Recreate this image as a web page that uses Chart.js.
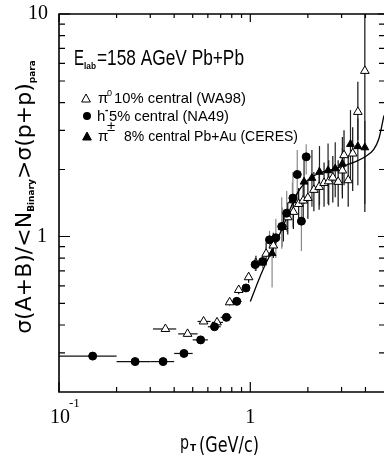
<!DOCTYPE html>
<html>
<head>
<meta charset="utf-8">
<script src="https://cdn.jsdelivr.net/npm/chart.js@4.4.1/dist/chart.umd.min.js"></script>
<style>
  html, body { margin: 0; padding: 0; background: #fff; overflow: hidden; }
  #wrap { width: 384px; height: 462px; overflow: hidden; position: relative; }
  canvas { position: absolute; left: 0; top: 0; }
</style>
</head>
<body>
<div id="wrap"><canvas id="c" width="390" height="462"></canvas></div>
<script>
// pi0 10% central (WA98) - open triangles
const waX   = [0.36, 0.47, 0.57, 0.67, 0.78, 0.87, 0.98, 1.07, 1.21, 1.32, 1.49, 1.57, 1.68, 1.79, 1.89, 2.00, 2.15, 2.29, 2.43, 2.57, 2.70, 2.88, 3.03, 3.09, 3.25, 3.43, 3.65, 3.97];
const waY   = [0.384, 0.365, 0.415, 0.411, 0.506, 0.575, 0.656, 0.758, 0.836, 0.911, 1.11, 1.22, 1.29, 1.40, 1.45, 1.49, 1.62, 1.67, 1.74, 1.77, 1.84, 1.76, 1.98, 2.32, 1.79, 2.36, 3.63, 5.55];
const waXlo = [0.31, 0.42, 0.53, 0.63, 0.75, 0.84, 0.95, 1.05, 0, 0, 0, 0, 0, 0, 0, 0, 0, 0, 0, 0, 0, 0, 0, 0, 0, 0, 0, 0];
const waXhi = [0.41, 0.53, 0.62, 0.72, 0.81, 0.90, 1.01, 1.09, 0, 0, 0, 0, 0, 0, 0, 0, 0, 0, 0, 0, 0, 0, 0, 0, 0, 0, 0, 0];
const waYlo = [0.38, 0.36, 0.41, 0.40, 0.49, 0.55, 0.62, 0.70, 0.74, 0.80, 0.95, 1.02, 1.08, 1.15, 1.18, 1.20, 1.30, 1.32, 1.36, 1.38, 1.42, 1.36, 1.48, 1.70, 1.36, 1.60, 2.71, 1.29];
const waYhi = [0.39, 0.37, 0.42, 0.42, 0.52, 0.60, 0.69, 0.82, 0.94, 1.04, 1.28, 1.42, 1.50, 1.65, 1.72, 1.78, 1.95, 2.05, 2.15, 2.20, 2.30, 2.20, 2.50, 3.00, 2.30, 3.10, 4.96, 10.0];

// h- 5% central (NA49) - filled circles
const naX   = [0.15, 0.25, 0.35, 0.45, 0.55, 0.65, 0.75, 0.85, 0.95, 1.06, 1.16, 1.26, 1.36, 1.46, 1.55, 1.67, 1.76, 1.85, 1.96];
const naY   = [0.290, 0.274, 0.274, 0.298, 0.343, 0.393, 0.433, 0.511, 0.587, 0.748, 0.772, 0.966, 0.987, 1.109, 1.273, 1.488, 1.90, 1.172, 2.28];
const naXlo = [0.10, 0.20, 0.30, 0.40, 0.50, 0.60, 0.70, 0.80, 0.91, 0, 0, 0, 0, 0, 0, 0, 0, 0, 0];
const naXhi = [0.20, 0.30, 0.40, 0.50, 0.60, 0.70, 0.80, 0.90, 0.99, 0, 0, 0, 0, 0, 0, 0, 0, 0, 0];
const naYlo = [0.29, 0.27, 0.27, 0.29, 0.34, 0.39, 0.43, 0.50, 0.57, 0.70, 0.72, 0.88, 0.80, 0.88, 1.05, 1.10, 1.40, 0.86, 1.90];
const naYhi = [0.29, 0.28, 0.28, 0.30, 0.35, 0.40, 0.44, 0.52, 0.60, 0.80, 0.83, 1.06, 1.20, 1.50, 1.60, 1.95, 2.45, 1.45, 2.60];

// pi+- 8% central Pb+Au (CERES) - filled triangles
const ceX   = [1.30, 1.47, 1.66, 1.91, 2.10, 2.30, 2.55, 2.78, 3.03, 3.34, 3.65, 3.97];
const ceY   = [0.84, 1.10, 1.45, 1.76, 1.83, 1.95, 1.98, 2.02, 2.12, 2.60, 2.54, 2.51];
const ceYlo = [0.59, 0.90, 1.20, 1.40, 1.36, 1.38, 1.40, 1.50, 1.55, 1.80, 1.70, 1.40];
const ceYhi = [0.96, 1.35, 1.75, 2.20, 2.45, 2.55, 2.62, 2.65, 2.80, 3.70, 3.40, 3.30];

// curve
const curveX = [1.0, 1.1, 1.2, 1.3, 1.45, 1.6, 1.75, 1.9, 2.1, 2.4, 2.8, 3.2, 3.6, 4.0, 4.4, 4.7, 5.0];
const curveY = [0.51, 0.63, 0.75, 0.86, 1.06, 1.30, 1.55, 1.72, 1.85, 1.95, 2.02, 2.10, 2.18, 2.29, 2.45, 2.75, 3.5];

// axis ticks
const xMajor = [0.1, 1];
const xMinor = [0.2, 0.3, 0.4, 0.5, 0.6, 0.7, 0.8, 0.9, 2, 3, 4];
const yMajor = [1, 10];
const yMinor = [0.3, 0.4, 0.5, 0.6, 0.7, 0.8, 0.9, 2, 3, 4, 5, 6, 7, 8, 9];

function pts(xs, ys) {
  return xs.map((x, i) => ({ x: x, y: ys[i] }));
}

const errorSets = [
  { x: naX, y: naY, xlo: naXlo, xhi: naXhi, ylo: naYlo, yhi: naYhi, color: '#8a8a8a' },
  { x: waX, y: waY, xlo: waXlo, xhi: waXhi, ylo: waYlo, yhi: waYhi, color: '#111' },
  { x: ceX, y: ceY, xlo: null, xhi: null, ylo: ceYlo, yhi: ceYhi, color: '#222' }
];

const errorBars = {
  id: 'errorBars',
  beforeDatasetsDraw(chart) {
    const ctx = chart.ctx, xs = chart.scales.x, ys = chart.scales.y, a = chart.chartArea;
    ctx.save();
    ctx.beginPath();
    ctx.rect(a.left, a.top, a.right - a.left, a.bottom - a.top);
    ctx.clip();
    errorSets.forEach(s => {
      s.x.forEach((x, i) => {
        const px = xs.getPixelForValue(x), py = ys.getPixelForValue(s.y[i]);
        ctx.lineWidth = 1.2;
        let c = s.color;
        if (s.x === ceX && x < 1.8) c = '#8a8a8a';
        ctx.strokeStyle = c;
        const y1 = ys.getPixelForValue(s.ylo[i]), y2 = ys.getPixelForValue(s.yhi[i]);
        if (Math.abs(y1 - y2) > 1) {
          ctx.beginPath(); ctx.moveTo(px, y1); ctx.lineTo(px, y2); ctx.stroke();
        }
        if (s.xlo && s.xlo[i] > 0) {
          ctx.strokeStyle = '#111';
          ctx.beginPath();
          ctx.moveTo(xs.getPixelForValue(s.xlo[i]), py);
          ctx.lineTo(xs.getPixelForValue(s.xhi[i]), py);
          ctx.stroke();
        }
      });
    });
    ctx.restore();
  }
};

function triangle(ctx, x, y, r, fill) {
  ctx.beginPath();
  ctx.moveTo(x, y - r);
  ctx.lineTo(x + r * 0.87, y + r * 0.6);
  ctx.lineTo(x - r * 0.87, y + r * 0.6);
  ctx.closePath();
  ctx.fillStyle = fill ? '#000' : '#fff';
  ctx.fill();
  ctx.strokeStyle = '#000';
  ctx.lineWidth = 1;
  ctx.stroke();
}

// draw text squeezed to a given width (narrow font look)
function fitText(ctx, text, x, y, w) {
  const m = ctx.measureText(text).width;
  ctx.save();
  ctx.translate(x, y);
  ctx.scale(w / m, 1);
  ctx.fillText(text, 0, 0);
  ctx.restore();
}

const frame = {
  id: 'frame',
  afterDraw(chart) {
    const ctx = chart.ctx, xs = chart.scales.x, ys = chart.scales.y, a = chart.chartArea;
    ctx.save();
    ctx.strokeStyle = '#000';
    ctx.lineWidth = 1.6;
    ctx.beginPath();
    ctx.moveTo(a.right, a.top); ctx.lineTo(a.left, a.top);
    ctx.lineTo(a.left, a.bottom); ctx.lineTo(a.right, a.bottom);
    ctx.stroke();

    ctx.lineWidth = 1.2;
    ctx.beginPath();
    xMinor.forEach(v => {
      const px = xs.getPixelForValue(v);
      ctx.moveTo(px, a.bottom); ctx.lineTo(px, a.bottom - 5);
      ctx.moveTo(px, a.top); ctx.lineTo(px, a.top + 4);
    });
    xMajor.forEach(v => {
      const px = xs.getPixelForValue(v);
      ctx.moveTo(px, a.bottom); ctx.lineTo(px, a.bottom - 10);
      ctx.moveTo(px, a.top); ctx.lineTo(px, a.top + 8);
    });
    yMinor.forEach(v => {
      const py = ys.getPixelForValue(v);
      ctx.moveTo(a.left, py); ctx.lineTo(a.left + 6, py);
      ctx.moveTo(a.right, py); ctx.lineTo(a.right - 5, py);
    });
    yMajor.forEach(v => {
      const py = ys.getPixelForValue(v);
      ctx.moveTo(a.left, py); ctx.lineTo(a.left + 11, py);
      ctx.moveTo(a.right, py); ctx.lineTo(a.right - 6, py);
    });
    ctx.stroke();

    // tick labels
    ctx.fillStyle = '#000';
    ctx.font = '20px "Liberation Serif", serif';
    ctx.textBaseline = 'middle';
    ctx.textAlign = 'right';
    ctx.fillText('10', 48, ys.getPixelForValue(10));
    ctx.fillText('1', 47, ys.getPixelForValue(1));
    ctx.textAlign = 'center';
    ctx.fillText('10', xs.getPixelForValue(0.1) + 1, 418);
    ctx.fillText('1', xs.getPixelForValue(1), 418);
    ctx.font = '13px "Liberation Serif", serif';
    ctx.textAlign = 'left';
    ctx.fillText('-1', xs.getPixelForValue(0.1) + 10, 404);

    // x title
    ctx.textBaseline = 'alphabetic';
    ctx.font = '19px "DejaVu Sans", sans-serif';
    fitText(ctx, 'p', 180, 449, 9);
    ctx.font = 'bold 9px "DejaVu Sans", sans-serif';
    ctx.fillText('T', 190, 451);
    ctx.font = '21px "DejaVu Sans", sans-serif';
    fitText(ctx, '(GeV/c)', 199, 452, 60);

    // y title (rotated)
    ctx.save();
    ctx.translate(31, 197);
    ctx.rotate(-Math.PI / 2);
    const big = '22px "DejaVu Sans", sans-serif';
    const small = 'bold 9px "DejaVu Sans", sans-serif';
    const parts = [
      ['σ(A+B)/<N', big, 0],
      ['Binary', small, 3],
      ['>σ(p+p)', big, 0],
      ['para', small, 4]
    ];
    let total = 0;
    parts.forEach(p => { ctx.font = p[1]; total += ctx.measureText(p[0]).width; });
    let cx = -total / 2;
    parts.forEach(p => {
      ctx.font = p[1];
      ctx.fillText(p[0], cx, p[2]);
      cx += ctx.measureText(p[0]).width;
    });
    ctx.restore();

    // energy label
    ctx.font = '22px "Liberation Sans", sans-serif';
    fitText(ctx, 'E', 74, 65, 10);
    ctx.font = 'bold 9px "Liberation Sans", sans-serif';
    fitText(ctx, 'lab', 84, 69, 12);
    ctx.font = '22px "Liberation Sans", sans-serif';
    fitText(ctx, '=158 AGeV Pb+Pb', 97, 65, 147);

    // legend
    triangle(ctx, 86, 99, 5, false);
    ctx.beginPath(); ctx.arc(87, 116, 4, 0, Math.PI * 2); ctx.fillStyle = '#000'; ctx.fill();
    triangle(ctx, 87, 137, 5, true);

    ctx.fillStyle = '#000';
    ctx.font = '15px "Liberation Sans", sans-serif';
    ctx.fillText('π', 98, 103);
    fitText(ctx, '10% central (WA98)', 114, 103, 132);
    ctx.fillText('h', 97, 121);
    fitText(ctx, '5% central (NA49)', 109, 121, 120);
    ctx.fillText('π', 98, 141);
    fitText(ctx, '8% central Pb+Au (CERES)', 124, 141, 174);
    ctx.font = '9px "Liberation Sans", sans-serif';
    ctx.fillText('0', 107, 96);
    ctx.font = 'bold 10px "Liberation Sans", sans-serif';
    ctx.fillText('-', 105, 113);
    ctx.font = '15px "Liberation Sans", sans-serif';
    ctx.fillText('±', 107, 131);
    ctx.restore();
  }
};

new Chart(document.getElementById('c'), {
  type: 'scatter',
  data: {
    datasets: [
      {
        label: 'CERES',
        data: pts(ceX, ceY),
        pointStyle: 'triangle',
        pointRadius: 4.5,
        backgroundColor: '#000',
        borderColor: '#000',
        borderWidth: 1,
        order: 1
      },
      {
        label: 'NA49',
        data: pts(naX, naY),
        pointStyle: 'circle',
        pointRadius: 4,
        backgroundColor: '#000',
        borderColor: '#000',
        borderWidth: 1,
        order: 2
      },
      {
        label: 'WA98',
        data: pts(waX, waY),
        pointStyle: 'triangle',
        pointRadius: 5,
        backgroundColor: '#fff',
        borderColor: '#000',
        borderWidth: 1,
        order: 3
      },
      {
        label: 'curve',
        data: pts(curveX, curveY),
        showLine: true,
        pointRadius: 0,
        borderColor: '#000',
        borderWidth: 1.3,
        cubicInterpolationMode: 'monotone',
        fill: false,
        order: 4
      }
    ]
  },
  options: {
    responsive: false,
    animation: false,
    devicePixelRatio: 1,
    layout: { padding: { left: 59, right: 5, top: 14, bottom: 70 } },
    plugins: { legend: { display: false }, tooltip: { enabled: false } },
    scales: {
      x: { type: 'logarithmic', min: 0.1, max: 5, display: false },
      y: { type: 'logarithmic', min: 0.2, max: 10, display: false }
    }
  },
  plugins: [errorBars, frame]
});
</script>
</body>
</html>
